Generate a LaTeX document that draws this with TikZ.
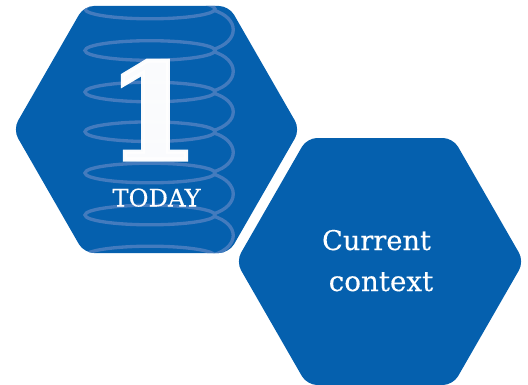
\documentclass[tikz,border=0pt]{standalone}
\usepackage{fontspec}
\setmainfont{DejaVu Serif}
\newfontfamily\heavyone[FakeBold=3]{DejaVu Serif Bold}
\newfontfamily\medserif[FakeBold=0.35]{DejaVu Serif}
\definecolor{hexblue}{HTML}{0560AE}
\definecolor{springblue}{HTML}{437BBE}
\tikzset{
  coil/.style={draw=springblue,line width=2.5pt},
  lbl/.style={text=white,inner sep=0pt,anchor=base},
}
\begin{document}
\begin{tikzpicture}[x=0.75pt,y=-0.75pt]
\useasboundingbox (0,0) rectangle (528,385);
\def\hexone{(84,6) -- (229,6) -- (300,129.5) -- (229,253) -- (84,253) -- (13,129.5) -- cycle}
\def\hextwo{(307,138) -- (453,138) -- (524,261.5) -- (453,385) -- (307,385) -- (236,261.5) -- cycle}
\fill[hexblue,rounded corners=7.5pt] \hexone;
\fill[hexblue,rounded corners=7.5pt] \hextwo;
\begin{scope}
  \clip[rounded corners=7.5pt] \hexone;
  \foreach \yy in {9,50.5,92,131.7,173,215,256}
    \draw[coil] (150,\yy) ellipse [x radius=65, y radius=9.8];
  \foreach \ya/\yb in {9/50.5,50.5/92,92/131.7,131.7/173,173/215,215/256,256/297}
    \draw[coil] (213,\ya+1) .. controls (240,\ya+9) and (240,\yb-9) .. (213,\yb-1);
\end{scope}
\node[lbl,font=\heavyone\fontsize{100}{100}\selectfont,text opacity=.98] (one) at (153,159.5) {1};
\node[lbl,font=\medserif\fontsize{18.2}{20}\selectfont] (today) at (156.5,206.5) {TODAY};
\node[lbl,font=\medserif\fontsize{20.4}{24}\selectfont] (current) at (376.5,250) {Current};
\node[lbl,font=\medserif\fontsize{20.8}{24}\selectfont] (context) at (381,291) {context};
\end{tikzpicture}
\end{document}
